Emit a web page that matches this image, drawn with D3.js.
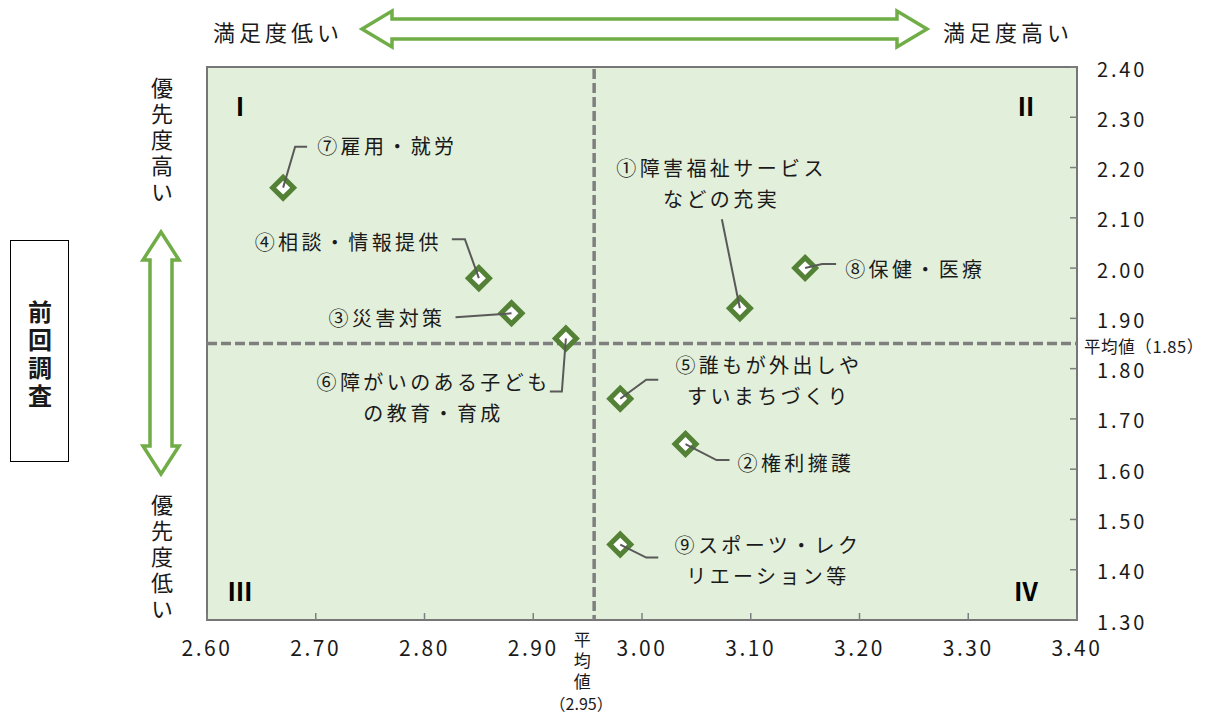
<!DOCTYPE html>
<html lang="ja">
<head>
<meta charset="utf-8">
<script src="https://cdn.jsdelivr.net/npm/d3@7"></script>
<style>
  html, body { margin: 0; padding: 0; background: #fff; }
  svg { display: block; }
  text { font-family: 'Noto Sans CJK JP', 'Noto Sans', sans-serif; fill: #1a1a1a; }
</style>
</head>
<body>
<svg id="chart" width="1224" height="714"></svg>
<script>
// ---- Data -------------------------------------------------------
// 満足度 (x) と 優先度 (y) — 前回調査
const ITEMS = [
  ['①障害福祉サービス', 'などの充実'],
  ['②権利擁護'],
  ['③災害対策'],
  ['④相談・情報提供'],
  ['⑤誰もが外出しや', 'すいまちづくり'],
  ['⑥障がいのある子ども', 'の教育・育成'],
  ['⑦雇用・就労'],
  ['⑧保健・医療'],
  ['⑨スポーツ・レク', 'リエーション等'],
];
const SATISFACTION = [3.09, 3.04, 2.88, 2.85, 2.98, 2.93, 2.67, 3.15, 2.98];
const PRIORITY     = [1.92, 1.65, 1.91, 1.98, 1.74, 1.86, 2.16, 2.00, 1.45];

const X_TICKS = [2.60, 2.70, 2.80, 2.90, 3.00, 3.10, 3.20, 3.30, 3.40];
const Y_TICKS = [1.30, 1.40, 1.50, 1.60, 1.70, 1.80, 1.90, 2.00, 2.10, 2.20, 2.30, 2.40];

const MEAN_X = 2.956;   // drawn position of the 平均値 line
const MEAN_Y = 1.85;
const MEAN_X_LABEL = '（2.95）';
const MEAN_Y_LABEL = '平均値（1.85）';

const QUADRANTS = ['Ⅰ', 'Ⅱ', 'Ⅲ', 'Ⅳ'];

// ---- Label layout (pixel offsets from each marker) ------------------
// tx/ty: first text line, anchor, leader: polyline from marker centre
const LAYOUT = [
  { tx: -20, ty: -141, anchor: 'middle', leader: [[0, 0], [-18, -89]] },
  { tx: 52,  ty: 18,   anchor: 'start',  leader: [[0, 0], [31, 16], [44, 16]] },
  { tx: -66, ty: 4,    anchor: 'end',    leader: [[0, 0], [-56, 4]] },
  { tx: -37, ty: -37,  anchor: 'end',    leader: [[0, 0], [-14, -39], [-27, -39]] },
  { tx: 147, ty: -34,  anchor: 'middle', leader: [[0, 0], [26, -19], [38, -19]] },
  { tx: -134, ty: 43,  anchor: 'middle', leader: [[0, 0], [-4, 53], [-16, 53]] },
  { tx: 34,  ty: -42,  anchor: 'start',  leader: [[0, 0], [12, -41], [24, -41]] },
  { tx: 40,  ty: 0,    anchor: 'start',  leader: [[0, 0], [17, -4], [31, -4]] },
  { tx: 146, ty: 0,    anchor: 'middle', leader: [[0, 0], [26, 13], [38, 13]] },
];

// ---- Build chart ----------------------------------------------------
const svg = d3.select('#chart');

const PLOT = { left: 207, right: 1077, top: 67, bottom: 620 };

const x = d3.scaleLinear().domain([2.6, 3.4]).range([PLOT.left, PLOT.right]);
const y = d3.scaleLinear().domain([1.3, 2.4]).range([PLOT.bottom, PLOT.top]);
const fmt = d3.format('.2f');

const GREEN = '#70ad47';
const DARK_GREEN = '#538135';
const GRAY = '#7f7f7f';

// plot background
svg.append('rect')
  .attr('x', PLOT.left).attr('y', PLOT.top)
  .attr('width', PLOT.right - PLOT.left)
  .attr('height', PLOT.bottom - PLOT.top)
  .attr('fill', '#e2efda')
  .attr('stroke', '#767676')
  .attr('stroke-width', 2);

// ticks (inside)
svg.append('g')
  .selectAll('line')
  .data(X_TICKS)
  .join('line')
  .attr('x1', d => x(d)).attr('x2', d => x(d))
  .attr('y1', PLOT.bottom).attr('y2', PLOT.bottom - 7)
  .attr('stroke', GRAY).attr('stroke-width', 1.5);

svg.append('g')
  .selectAll('line')
  .data(Y_TICKS)
  .join('line')
  .attr('x1', PLOT.right).attr('x2', PLOT.right - 7)
  .attr('y1', d => y(d)).attr('y2', d => y(d))
  .attr('stroke', GRAY).attr('stroke-width', 1.5);

// tick labels
svg.append('g')
  .selectAll('text')
  .data(X_TICKS)
  .join('text')
  .attr('x', d => x(d))
  .attr('y', PLOT.bottom + 27)
  .attr('dominant-baseline', 'central')
  .attr('text-anchor', 'middle')
  .attr('font-size', 21)
  .attr('letter-spacing', 2.5)
  .text(d => fmt(d));

svg.append('g')
  .selectAll('text')
  .data(Y_TICKS)
  .join('text')
  .attr('x', PLOT.right + 20)
  .attr('y', d => y(d) + 1)
  .attr('dominant-baseline', 'central')
  .attr('font-size', 20)
  .attr('letter-spacing', 2.8)
  .text(d => fmt(d));

// mean lines
svg.append('line')
  .attr('x1', x(MEAN_X)).attr('x2', x(MEAN_X))
  .attr('y1', PLOT.top + 2).attr('y2', PLOT.bottom)
  .attr('stroke', GRAY).attr('stroke-width', 3.5)
  .attr('stroke-dasharray', '10,4');

svg.append('line')
  .attr('x1', PLOT.left).attr('x2', PLOT.right)
  .attr('y1', y(MEAN_Y)).attr('y2', y(MEAN_Y))
  .attr('stroke', GRAY).attr('stroke-width', 3.5)
  .attr('stroke-dasharray', '10,4');

// vertical text helper (one text element, upright CJK glyphs)
function verticalText(str, cx, top, size, spacing, weight) {
  return svg.append('text')
    .attr('x', cx)
    .attr('y', top)
    .style('writing-mode', 'vertical-rl')
    .style('glyph-orientation-vertical', '0')
    .attr('text-anchor', 'start')
    .attr('font-size', size)
    .attr('letter-spacing', spacing)
    .attr('font-weight', weight || 'normal')
    .text(str);
}

// mean labels
verticalText('平均値', x(MEAN_X) - 12, 631, 17, 4);
svg.append('text')
  .attr('x', x(MEAN_X) - 13)
  .attr('y', 703)
  .attr('text-anchor', 'middle')
  .attr('dominant-baseline', 'central')
  .attr('font-size', 16)
  .text(MEAN_X_LABEL);

svg.append('text')
  .attr('x', PLOT.right + 7)
  .attr('y', y(MEAN_Y) + 2.5)
  .attr('dominant-baseline', 'central')
  .attr('font-size', 16.5)
  .attr('letter-spacing', 0.6)
  .text(MEAN_Y_LABEL);

// quadrant numerals
const qPos = [[240, 105], [1026, 105], [240, 590], [1026, 590]];
svg.append('g')
  .selectAll('text')
  .data(QUADRANTS)
  .join('text')
  .attr('x', (d, i) => qPos[i][0])
  .attr('y', (d, i) => qPos[i][1])
  .attr('text-anchor', 'middle')
  .attr('dominant-baseline', 'central')
  .attr('font-family', "'DejaVu Serif', 'Noto Sans CJK JP', serif")
  .attr('font-weight', 'bold')
  .attr('font-size', 25)
  .style('fill', '#000')
  .text(d => d);

// points
const points = ITEMS.map((lines, i) => ({
  lines,
  cx: x(SATISFACTION[i]),
  cy: y(PRIORITY[i]),
  lay: LAYOUT[i],
}));

svg.append('g')
  .selectAll('path')
  .data(points)
  .join('path')
  .attr('d', d3.symbol(d3.symbolSquare, 220))
  .attr('transform', d => `translate(${d.cx},${d.cy}) rotate(45)`)
  .attr('fill', '#fff')
  .attr('stroke', DARK_GREEN)
  .attr('stroke-width', 5);

// leader lines (drawn over the markers)
svg.append('g')
  .selectAll('polyline')
  .data(points)
  .join('polyline')
  .attr('points', d => d.lay.leader.map(p => [d.cx + p[0], d.cy + p[1]].join(',')).join(' '))
  .attr('fill', 'none')
  .attr('stroke', '#595959')
  .attr('stroke-width', 2);

// labels
const labelG = svg.append('g')
  .attr('font-size', 20)
  .attr('letter-spacing', 3.4);

points.forEach(d => {
  d.lines.forEach((line, j) => {
    labelG.append('text')
      .attr('x', d.cx + d.lay.tx + (d.lay.anchor === 'middle' ? 1.7 : 0))
      .attr('y', d.cy + d.lay.ty + j * 31)
      .attr('text-anchor', d.lay.anchor)
      .attr('dominant-baseline', 'central')
      .text(line);
  });
});

// ---- Arrows & side labels ------------------------------------------
function doubleArrow(len, headLen, headHalf, shaftHalf) {
  const a = -len / 2, b = len / 2;
  return `M${a},0 L${a + headLen},${-headHalf} L${a + headLen},${-shaftHalf}` +
    ` L${b - headLen},${-shaftHalf} L${b - headLen},${-headHalf} L${b},0` +
    ` L${b - headLen},${headHalf} L${b - headLen},${shaftHalf}` +
    ` L${a + headLen},${shaftHalf} L${a + headLen},${headHalf} Z`;
}

// horizontal (満足度)
svg.append('path')
  .attr('d', doubleArrow(565, 30, 18, 10))
  .attr('transform', 'translate(644.5,29)')
  .attr('fill', '#fff')
  .attr('stroke', GREEN)
  .attr('stroke-width', 3.5);

svg.append('text')
  .attr('x', 213).attr('y', 31)
  .attr('dominant-baseline', 'central')
  .attr('font-size', 22).attr('letter-spacing', 4)
  .text('満足度低い');
svg.append('text')
  .attr('x', 943).attr('y', 31)
  .attr('dominant-baseline', 'central')
  .attr('font-size', 22).attr('letter-spacing', 4)
  .text('満足度高い');

// vertical (優先度)
svg.append('path')
  .attr('d', doubleArrow(242, 28, 18, 11))
  .attr('transform', 'translate(161,353) rotate(90)')
  .attr('fill', '#fff')
  .attr('stroke', GREEN)
  .attr('stroke-width', 3.5);

verticalText('優先度高い', 162, 77, 22, 4);
verticalText('優先度低い', 162, 494, 22, 4);

// 前回調査 box
svg.append('rect')
  .attr('x', 10.5).attr('y', 240.5)
  .attr('width', 58).attr('height', 221)
  .attr('fill', '#fff')
  .attr('stroke', '#000')
  .attr('stroke-width', 1);
verticalText('前回調査', 40, 300, 24, 4, 'bold');
</script>
</body>
</html>
